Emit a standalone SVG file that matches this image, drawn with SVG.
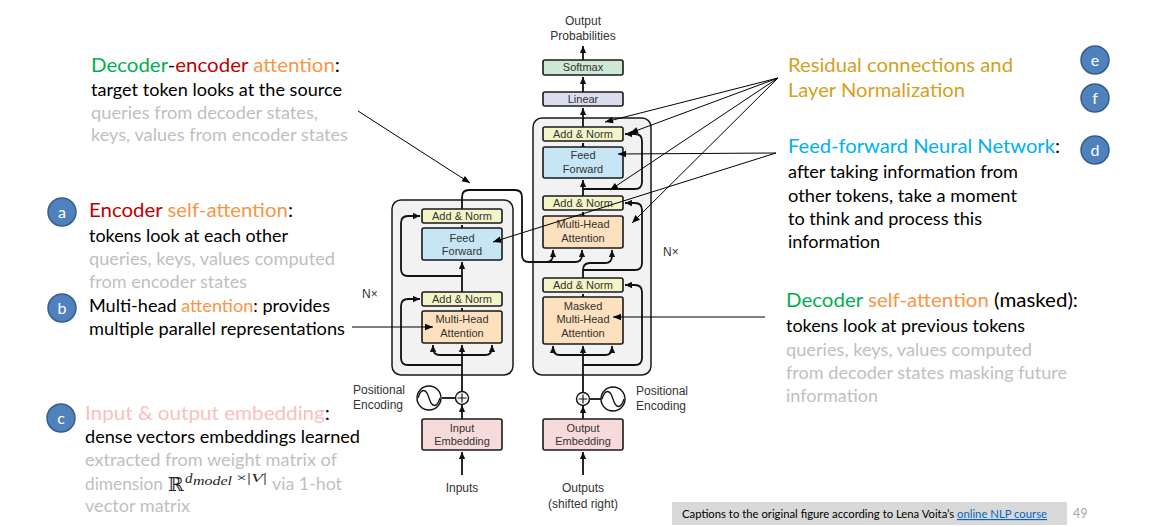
<svg xmlns="http://www.w3.org/2000/svg" width="1150" height="527" viewBox="0 0 1150 527">
<defs>
<style>
.outer{fill:#f2f2f2;stroke:#1a1a1a;stroke-width:1.5}
.box{stroke:#1a1a1a;stroke-width:1.6}
.an{fill:#f3f5c8}.ff{fill:#c6e5f5}.mha{fill:#fde0bd}.emb{fill:#f7dbdb}.lin{fill:#dcdcf1}.sm{fill:#cde8d4}
.w{fill:none;stroke:#111;stroke-width:1.8}
.ann{fill:none;stroke:#000;stroke-width:1}
.dt{font-family:"Liberation Sans",Arial,sans-serif;font-size:11px;fill:#333;text-anchor:middle}
.lt{font-family:"Liberation Sans",Arial,sans-serif;font-size:12px;fill:#333}
.t{font-family:Lato,"Open Sans","Liberation Sans",sans-serif}
.h{font-size:20px}.b{font-size:17px}
.k{fill:#000}.g{fill:#bfbfbf}.gr{fill:#00b050}.rd{fill:#c00000}.or{fill:#f79646}.pk{fill:#f9c0c0}.gd{fill:#d4a11e}.bl{fill:#00b0f0}
.cir{fill:#4f81bd;stroke:#385d8a;stroke-width:1.5}
.cl{font-family:Lato,"Open Sans","Liberation Sans",sans-serif;font-size:16px;fill:#fff;text-anchor:middle}
</style>
<marker id="a" viewBox="0 0 10 10" refX="10" refY="5" markerWidth="7" markerHeight="7" markerUnits="userSpaceOnUse" orient="auto"><path d="M0,0.5L10,5L0,9.5z" fill="#111"/></marker>
<marker id="b" viewBox="0 0 10 10" refX="10" refY="5" markerWidth="9" markerHeight="8" markerUnits="userSpaceOnUse" orient="auto"><path d="M0,1L10,5L0,9z" fill="#000"/></marker>
</defs>
<rect width="1150" height="527" fill="#fff"/>

<!-- block frames -->
<g id="encoder-block"><rect class="outer" x="392" y="200" width="121" height="175" rx="9"/><text class="lt" x="362" y="298">N×</text></g>
<g id="decoder-block"><rect class="outer" x="533" y="118" width="118" height="257" rx="9"/><text class="lt" x="663" y="256">N×</text></g>

<!-- connectors -->
<g id="connectors">
<path class="w" d="M462,475V452" marker-end="url(#a)"/>
<path class="w" d="M462,419V405" marker-end="url(#a)"/>
<path class="w" d="M442,398H455"/>
<path class="w" d="M462,391V345" marker-end="url(#a)"/>
<path class="w" d="M462,355H440Q433,355 433,348V345" marker-end="url(#a)"/>
<path class="w" d="M462,355H485Q492,355 492,348V345" marker-end="url(#a)"/>
<path class="w" d="M462,365H408Q401,365 401,358V306Q401,299 408,299H420" marker-end="url(#a)"/>
<path class="w" d="M462,311V308" marker-end="url(#a)"/>
<path class="w" d="M462,292V262" marker-end="url(#a)"/>
<path class="w" d="M462,276H408Q401,276 401,269V223Q401,216 408,216H420" marker-end="url(#a)"/>
<path class="w" d="M462,228V225" marker-end="url(#a)"/>
<path class="w" d="M462,209V197Q462,190 469,190H515Q522,190 522,197V255Q522,262 529,262H546Q553,262 553,255V250" marker-end="url(#a)"/>
<path class="w" d="M546,262H575Q582,262 582,255V250" marker-end="url(#a)"/>
<path class="w" d="M583,475V452" marker-end="url(#a)"/>
<path class="w" d="M583,419V406" marker-end="url(#a)"/>
<path class="w" d="M590,399H601"/>
<path class="w" d="M583,392V346" marker-end="url(#a)"/>
<path class="w" d="M583,355H560Q553,355 553,348V346" marker-end="url(#a)"/>
<path class="w" d="M583,355H605Q612,355 612,348V346" marker-end="url(#a)"/>
<path class="w" d="M583,365H635Q642,365 642,358V292Q642,285 635,285H625" marker-end="url(#a)"/>
<path class="w" d="M583,297V294" marker-end="url(#a)"/>
<path class="w" d="M583,278V270Q583,263 590,263H605Q612,263 612,256V250" marker-end="url(#a)"/>
<path class="w" d="M583,270H635Q642,270 642,263V210Q642,203 635,203H625" marker-end="url(#a)"/>
<path class="w" d="M583,216V212" marker-end="url(#a)"/>
<path class="w" d="M583,196V180" marker-end="url(#a)"/>
<path class="w" d="M583,189H635Q642,189 642,182V141Q642,134 635,134H625" marker-end="url(#a)"/>
<path class="w" d="M583,147V143" marker-end="url(#a)"/>
<path class="w" d="M583,127V108" marker-end="url(#a)"/>
<path class="w" d="M583,92V77" marker-end="url(#a)"/>
<path class="w" d="M583,60V46" marker-end="url(#a)"/>
</g>

<!-- encoder nodes -->
<g id="enc-addnorm-2"><rect class="box an" x="422" y="209" width="80" height="14" rx="2"/><text class="dt" x="462" y="220">Add &amp; Norm</text></g>
<g id="enc-feed-forward"><rect class="box ff" x="422" y="228" width="80" height="32" rx="2"/><text class="dt" x="462" y="242">Feed</text><text class="dt" x="462" y="255">Forward</text></g>
<g id="enc-addnorm-1"><rect class="box an" x="422" y="292" width="80" height="14" rx="2"/><text class="dt" x="462" y="303">Add &amp; Norm</text></g>
<g id="enc-mha"><rect class="box mha" x="422" y="311" width="80" height="32" rx="2"/><text class="dt" x="462" y="323">Multi-Head</text><text class="dt" x="462" y="337">Attention</text></g>
<g id="enc-plus"><circle cx="462" cy="398" r="6.5" fill="#fff" stroke="#111" stroke-width="1.4"/><path d="M457.5,398H466.5M462,393.5V402.5" stroke="#111" stroke-width="1.2"/></g>
<g id="enc-pos-enc"><circle cx="429" cy="398" r="12" fill="#fff" stroke="#111" stroke-width="1.4"/><path d="M418,398C421,388 426,388 429,398C432,408 437,408 440,398" fill="none" stroke="#111" stroke-width="1.3"/><text class="lt" x="353" y="394">Positional</text><text class="lt" x="353" y="409">Encoding</text></g>
<g id="enc-embedding"><rect class="box emb" x="422" y="419" width="80" height="31" rx="2"/><text class="dt" x="462" y="432">Input</text><text class="dt" x="462" y="445">Embedding</text></g>
<g id="inputs"><text class="lt" x="462" y="492" text-anchor="middle">Inputs</text></g>

<!-- decoder nodes -->
<g id="output-probs"><text class="lt" x="583" y="25" text-anchor="middle">Output</text><text class="lt" x="583" y="40" text-anchor="middle">Probabilities</text></g>
<g id="softmax"><rect class="box sm" x="543" y="60" width="80" height="15" rx="2"/><text class="dt" x="583" y="71">Softmax</text></g>
<g id="linear"><rect class="box lin" x="543" y="92" width="80" height="14" rx="2"/><text class="dt" x="583" y="103">Linear</text></g>
<g id="dec-addnorm-3"><rect class="box an" x="543" y="127" width="80" height="14" rx="2"/><text class="dt" x="583" y="138">Add &amp; Norm</text></g>
<g id="dec-feed-forward"><rect class="box ff" x="543" y="147" width="80" height="31" rx="2"/><text class="dt" x="583" y="159">Feed</text><text class="dt" x="583" y="173">Forward</text></g>
<g id="dec-addnorm-2"><rect class="box an" x="543" y="196" width="80" height="14" rx="2"/><text class="dt" x="583" y="207">Add &amp; Norm</text></g>
<g id="dec-mha"><rect class="box mha" x="543" y="216" width="80" height="32" rx="2"/><text class="dt" x="583" y="228">Multi-Head</text><text class="dt" x="583" y="242">Attention</text></g>
<g id="dec-addnorm-1"><rect class="box an" x="543" y="278" width="80" height="14" rx="2"/><text class="dt" x="583" y="289">Add &amp; Norm</text></g>
<g id="dec-masked-mha"><rect class="box mha" x="543" y="297" width="80" height="47" rx="2"/><text class="dt" x="583" y="310">Masked</text><text class="dt" x="583" y="323">Multi-Head</text><text class="dt" x="583" y="337">Attention</text></g>
<g id="dec-plus"><circle cx="583" cy="399" r="6.5" fill="#fff" stroke="#111" stroke-width="1.4"/><path d="M578.5,399H587.5M583,394.5V403.5" stroke="#111" stroke-width="1.2"/></g>
<g id="dec-pos-enc"><circle cx="613" cy="399" r="12" fill="#fff" stroke="#111" stroke-width="1.4"/><path d="M602,399C605,389 610,389 613,399C616,409 621,409 624,399" fill="none" stroke="#111" stroke-width="1.3"/><text class="lt" x="636" y="395">Positional</text><text class="lt" x="636" y="410">Encoding</text></g>
<g id="dec-embedding"><rect class="box emb" x="543" y="419" width="80" height="31" rx="2"/><text class="dt" x="583" y="432">Output</text><text class="dt" x="583" y="445">Embedding</text></g>
<g id="outputs"><text class="lt" x="583" y="492" text-anchor="middle">Outputs</text><text class="lt" x="583" y="508" text-anchor="middle">(shifted right)</text></g>

<!-- annotation pointers (drawn on top) -->
<g id="annotation-pointers">
<path class="ann" d="M358,111L470,183" marker-end="url(#b)"/>
<path class="ann" d="M352,327H433" marker-end="url(#b)"/>
<path class="ann" d="M778,78L605,122" marker-end="url(#b)"/>
<path class="ann" d="M778,78L630,133" marker-end="url(#b)"/>
<path class="ann" d="M778,78L610,190" marker-end="url(#b)"/>
<path class="ann" d="M778,78L632,223" marker-end="url(#b)"/>
<path class="ann" d="M776,153L618,154" marker-end="url(#b)"/>
<path class="ann" d="M776,153L493,242" marker-end="url(#b)"/>
<path class="ann" d="M765,317H613" marker-end="url(#b)"/>
</g>

<!-- annotations left -->
<g id="note-dec-enc">
<text class="t h" x="91" y="72" textLength="249" lengthAdjust="spacingAndGlyphs"><tspan class="gr">Decoder</tspan><tspan class="k">-</tspan><tspan class="rd">encoder</tspan><tspan class="or"> attention</tspan><tspan class="k">:</tspan></text>
<text class="t b k" x="91" y="96" textLength="251" lengthAdjust="spacingAndGlyphs">target token looks at the source</text>
<text class="t b g" x="91" y="119" textLength="227" lengthAdjust="spacingAndGlyphs">queries from decoder states,</text>
<text class="t b g" x="91" y="141" textLength="257" lengthAdjust="spacingAndGlyphs">keys, values from encoder states</text>
</g>
<g id="note-a">
<circle class="cir" cx="62" cy="212" r="14"/><text class="cl" x="62" y="218">a</text>
<text class="t h" x="89" y="217" textLength="204" lengthAdjust="spacingAndGlyphs"><tspan class="rd">Encoder</tspan><tspan class="or"> self-attention</tspan><tspan class="k">:</tspan></text>
<text class="t b k" x="89" y="242" textLength="199" lengthAdjust="spacingAndGlyphs">tokens look at each other</text>
<text class="t b g" x="89" y="265" textLength="246" lengthAdjust="spacingAndGlyphs">queries, keys, values computed</text>
<text class="t b g" x="89" y="288" textLength="158" lengthAdjust="spacingAndGlyphs">from encoder states</text>
</g>
<g id="note-b">
<circle class="cir" cx="62" cy="308" r="14"/><text class="cl" x="62" y="314">b</text>
<text class="t b" x="89" y="312" textLength="241" lengthAdjust="spacingAndGlyphs"><tspan class="k">Multi-head </tspan><tspan class="or">attention</tspan><tspan class="k">: provides</tspan></text>
<text class="t b k" x="89" y="335" textLength="256" lengthAdjust="spacingAndGlyphs">multiple parallel representations</text>
</g>
<g id="note-c">
<circle class="cir" cx="61" cy="418" r="14"/><text class="cl" x="61" y="424">c</text>
<text class="t h" x="85" y="420" textLength="245" lengthAdjust="spacingAndGlyphs"><tspan class="pk">Input &amp; output embedding</tspan><tspan class="k">:</tspan></text>
<text class="t b k" x="85" y="443" textLength="275" lengthAdjust="spacingAndGlyphs">dense vectors embeddings learned</text>
<text class="t b g" x="85" y="466" textLength="252" lengthAdjust="spacingAndGlyphs">extracted from weight matrix of</text>
<text class="t b g" x="85" y="490" textLength="78" lengthAdjust="spacingAndGlyphs">dimension</text>
<text x="168" y="491" font-family="'DejaVu Serif','DejaVu Sans',serif" font-size="19" fill="#262626">ℝ</text>
<text x="185" y="483" font-family="'Liberation Serif',serif" font-style="italic" font-size="15" fill="#262626">d</text>
<text x="193" y="485" font-family="'Liberation Serif',serif" font-style="italic" font-size="12" fill="#262626" textLength="39" lengthAdjust="spacingAndGlyphs">model</text>
<text x="236" y="482" font-family="'Liberation Serif',serif" font-size="13" fill="#262626" textLength="31" lengthAdjust="spacingAndGlyphs">×|<tspan font-style="italic">V</tspan>|</text>
<text class="t b g" x="272" y="490" textLength="70" lengthAdjust="spacingAndGlyphs">via 1-hot</text>
<text class="t b g" x="85" y="512" textLength="105" lengthAdjust="spacingAndGlyphs">vector matrix</text>
</g>

<!-- annotations right -->
<g id="note-ef">
<text class="t h gd" x="788" y="72" textLength="225" lengthAdjust="spacingAndGlyphs">Residual connections and</text>
<text class="t h gd" x="788" y="97" textLength="177" lengthAdjust="spacingAndGlyphs">Layer Normalization</text>
<circle class="cir" cx="1095" cy="60" r="14"/><text class="cl" x="1095" y="66">e</text>
<circle class="cir" cx="1095" cy="98" r="14"/><text class="cl" x="1095" y="104">f</text>
</g>
<g id="note-d">
<circle class="cir" cx="1095" cy="150" r="14"/><text class="cl" x="1095" y="156">d</text>
<text class="t h" x="788" y="153" textLength="272" lengthAdjust="spacingAndGlyphs"><tspan class="bl">Feed-forward Neural Network</tspan><tspan class="k">:</tspan></text>
<text class="t b k" x="788" y="178" textLength="230" lengthAdjust="spacingAndGlyphs">after taking information from</text>
<text class="t b k" x="788" y="202" textLength="229" lengthAdjust="spacingAndGlyphs">other tokens, take a moment</text>
<text class="t b k" x="788" y="225" textLength="194" lengthAdjust="spacingAndGlyphs">to think and process this</text>
<text class="t b k" x="788" y="248" textLength="92" lengthAdjust="spacingAndGlyphs">information</text>
</g>
<g id="note-dec-self">
<text class="t h" x="786" y="307" textLength="292" lengthAdjust="spacingAndGlyphs"><tspan class="gr">Decoder</tspan><tspan class="or"> self-attention</tspan><tspan class="k"> (masked):</tspan></text>
<text class="t b k" x="786" y="332" textLength="239" lengthAdjust="spacingAndGlyphs">tokens look at previous tokens</text>
<text class="t b g" x="786" y="356" textLength="246" lengthAdjust="spacingAndGlyphs">queries, keys, values computed</text>
<text class="t b g" x="786" y="379" textLength="281" lengthAdjust="spacingAndGlyphs">from decoder states masking future</text>
<text class="t b g" x="786" y="402" textLength="92" lengthAdjust="spacingAndGlyphs">information</text>
</g>

<!-- caption -->
<g id="caption">
<rect x="672" y="502" width="395" height="23" fill="#d9d9d9"/>
<text class="t" x="682" y="518" font-size="11.5" fill="#000" textLength="365" lengthAdjust="spacingAndGlyphs">Captions to the original figure according to Lena Voita’s <tspan fill="#0563c1" text-decoration="underline">online NLP course</tspan></text>
<text class="t" x="1073" y="518" font-size="12.5" fill="#a6a6a6">49</text>
</g>
</svg>
